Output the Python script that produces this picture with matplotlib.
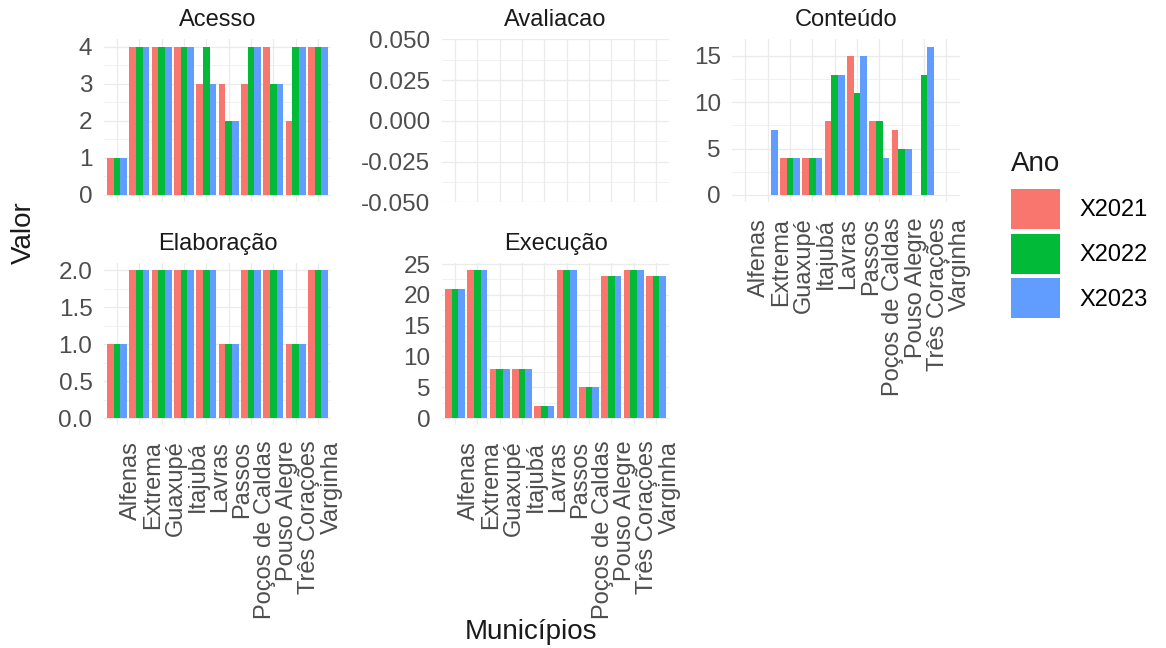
"""
Painel de barras por dimensao e municipio (2021-2023)
"""
import numpy as np
import matplotlib
matplotlib.use('Agg')
import matplotlib.pyplot as plt
from matplotlib.patches import Patch
from matplotlib.ticker import MultipleLocator, FormatStrFormatter
from matplotlib.transforms import ScaledTranslation

plt.rcParams['font.family'] = ['Liberation Sans', 'DejaVu Sans']

municipios = ['Alfenas', 'Extrema', 'Guaxupé', 'Itajubá', 'Lavras', 'Passos',
              'Poços de Caldas', 'Pouso Alegre', 'Três Corações', 'Varginha']
anos = ['X2021', 'X2022', 'X2023']
cores = ['#F8766D', '#00BA38', '#619CFF']

nan = np.nan
# valores (nan = sem barra)
acesso_2021 = [1, 4, 4, 4, 3, 3, 3, 4, 2, 4]
acesso_2022 = [1, 4, 4, 4, 4, 2, 4, 3, 4, 4]
acesso_2023 = [1, 4, 4, 4, 3, 2, 4, 3, 4, 4]

avaliacao_2021 = [nan] * 10
avaliacao_2022 = [nan] * 10
avaliacao_2023 = [nan] * 10

conteudo_2021 = [nan, nan, 4, 4, 8, 15, 8, 7, nan, nan]
conteudo_2022 = [nan, nan, 4, 4, 13, 11, 8, 5, 13, nan]
conteudo_2023 = [nan, 7, 4, 4, 13, 15, 4, 5, 16, nan]

elaboracao_2021 = [1, 2, 2, 2, 2, 1, 2, 2, 1, 2]
elaboracao_2022 = [1, 2, 2, 2, 2, 1, 2, 2, 1, 2]
elaboracao_2023 = [1, 2, 2, 2, 2, 1, 2, 2, 1, 2]

execucao_2021 = [21, 24, 8, 8, 2, 24, 5, 23, 24, 23]
execucao_2022 = [21, 24, 8, 8, 2, 24, 5, 23, 24, 23]
execucao_2023 = [21, 24, 8, 8, 2, 24, 5, 23, 24, 23]

# (titulo, series, passo maior, formato, rotulos x, coluna, linha)
paineis = [
    ('Acesso', [acesso_2021, acesso_2022, acesso_2023], 1, '%d', False, 0, 0),
    ('Avaliacao', [avaliacao_2021, avaliacao_2022, avaliacao_2023], 0.025, '%.3f', False, 1, 0),
    ('Conteúdo', [conteudo_2021, conteudo_2022, conteudo_2023], 5, '%d', True, 2, 0),
    ('Elaboração', [elaboracao_2021, elaboracao_2022, elaboracao_2023], 0.5, '%.1f', True, 0, 1),
    ('Execução', [execucao_2021, execucao_2022, execucao_2023], 5, '%d', True, 1, 1),
]

W, H = 1166, 648
fig = plt.figure(figsize=(W / 100, H / 100), dpi=100, facecolor='white')

col_left = [103.6, 441.6, 732.0]
panel_w = 227.8
row_top = [39.3, 262.8]
panel_h = [163.1, 162.6]

x = np.arange(1, len(municipios) + 1)
largura = 0.3
grid_c = '#EBEBEB'

for titulo, series, passo, fmt, mostra_x, col, lin in paineis:
    l = col_left[col] / W
    b = 1 - (row_top[lin] + panel_h[lin]) / H
    ax = fig.add_axes([l, b, panel_w / W, panel_h[lin] / H])
    ax.set_axisbelow(True)
    for j, vals in enumerate(series):
        ax.bar(x + (j - 1) * largura, vals, width=largura, color=cores[j], linewidth=0)

    arr = np.array(series, dtype=float)
    if np.all(np.isnan(arr)):
        ax.set_ylim(-0.05, 0.05)
    else:
        ymax = np.nanmax(arr)
        ax.set_ylim(-0.05 * ymax, 1.05 * ymax)
    ax.set_xlim(0.4, len(municipios) + 0.6)

    ax.yaxis.set_major_locator(MultipleLocator(passo))
    ax.yaxis.set_minor_locator(MultipleLocator(passo / 2))
    ax.yaxis.set_major_formatter(FormatStrFormatter(fmt))
    ax.set_xticks(x)

    ax.grid(True, which='major', color=grid_c, linewidth=0.9)
    ax.grid(True, which='minor', axis='y', color=grid_c, linewidth=0.5)
    for s in ax.spines.values():
        s.set_visible(False)

    ax.tick_params(axis='both', which='both', length=0)
    ax.tick_params(axis='y', labelsize=17.5, labelcolor='#4D4D4D', pad=8)
    if mostra_x:
        ax.set_xticklabels(municipios)
        ax.tick_params(axis='x', labelsize=17, labelcolor='#4D4D4D', pad=11)
        off = ScaledTranslation(2 / 72, 0, fig.dpi_scale_trans)
        for lbl in ax.get_xticklabels():
            lbl.set_rotation(90)
            lbl.set_ha('left')
            lbl.set_va('top')
            lbl.set_transform(lbl.get_transform() + off)
    else:
        ax.set_xticklabels([])

    ax.set_title(titulo, fontsize=17, color='#1A1A1A', pad=9.5)

fig.text(24 / W, 1 - 233 / H, 'Valor', rotation=90, fontsize=20, ha='center', va='center', color='#1A1A1A')
fig.text(531 / W, 1 - 632 / H, 'Municípios', fontsize=20, ha='center', va='center', color='#1A1A1A')

# legenda: titulo separado para controlar o espacamento
fig.text(1011 / W, 1 - 164 / H, 'Ano', fontsize=20, ha='left', va='center', color='#1A1A1A')
handles = [Patch(facecolor=c, edgecolor='none') for c in cores]
leg = fig.legend(handles, anos, loc='upper left', bbox_to_anchor=(1011 / W, 1 - 189 / H),
                 frameon=False, fontsize=17,
                 handlelength=2.07, handleheight=2.23, labelspacing=0.2,
                 handletextpad=0.85, borderpad=0, borderaxespad=0)

fig.savefig('out.png', dpi=100, facecolor='white')
